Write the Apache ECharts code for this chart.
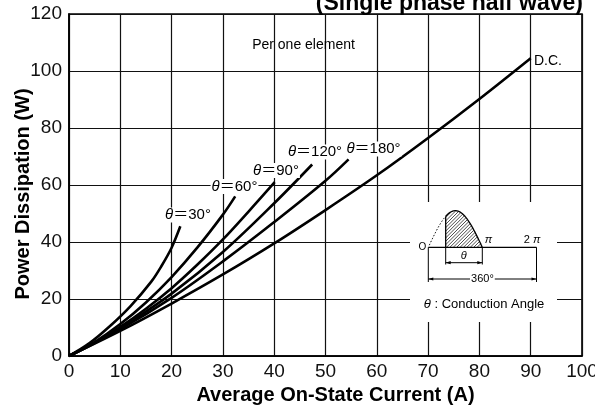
<!DOCTYPE html>
<html><head><meta charset="utf-8">
<script src="https://cdn.jsdelivr.net/npm/echarts@6/dist/echarts.min.js"></script>
<style>html,body{margin:0;padding:0;background:#fff}#c{width:595px;height:408px}</style>
</head><body><div id="c"></div>
<script>
// ---- data ----
const xTickValues = [0,10,20,30,40,50,60,70,80,90,100];
const yTickValues = [0,20,40,60,80,100,120];
const curveNames = ['θ＝30°','θ＝60°','θ＝90°','θ＝120°','θ＝180°','D.C.'];
const deg30X  = [0,4,8,12,16,18,20,21.7];
const deg30Y  = [0,4.5,10.5,17.5,26,31.5,38,45.5];
const deg60X  = [0,5,10,15,20,25,30,32.4];
const deg60Y  = [0,4.9,11.2,18.8,27.7,38,49.6,56];
const deg90X  = [0,5,10,15,20,25,30,35,40.1];
const deg90Y  = [0,4.7,10.2,16.6,23.8,32,40.9,50.7,61];
const deg120X = [0,5,10,20,30,40,47.4];
const deg120Y = [0,4.55,9.7,21.9,36.5,53.6,67.2];
const deg180X = [0,10,20,30,40,50,54.5];
const deg180Y = [0,9.4,20.4,33.2,47,61.5,69];
const dcX     = [0,10,20,30,40,50,60,70,80,90];
const dcY     = [0,8.8,18.4,28.6,39.5,51.2,63.4,76.5,90.2,104.5];

const curvesX = [deg30X,deg60X,deg90X,deg120X,deg180X,dcX];
const curvesY = [deg30Y,deg60Y,deg90Y,deg120Y,deg180Y,dcY];

const FONT = '"Liberation Sans", Arial, Helvetica, "Noto Sans CJK JP", sans-serif';
const chart = echarts.init(document.getElementById('c'), null, {renderer:'canvas'});

const series = curveNames.map((n,i)=>({
  name:n, type:'line', smooth:0.35, symbol:'none',
  lineStyle:{color:'#000', width:2.6},
  data: curvesX[i].map((x,j)=>[x, curvesY[i][j]]),
  z:3
}));

// ---- inset diagram (decoration) ----
function insetGraphics(){
  const g = [];
  const x0=428.3, xa=445.7, xb=482.3, x2=536.5, base=247.3, amp=36.6;
  const top = x => base - amp*Math.sin(Math.PI*(x-x0)/(xb-x0));
  const stroke = {stroke:'#000', lineWidth:1, fill:null};
  g.push({type:'rect', shape:{x:410,y:202,width:147,height:120}, style:{fill:'#fff'}, z:5});
  for(let c = xa+base-amp; c < xb+base; c += 3.4){
    let seg=null;
    for(let x=xa; x<=xb; x+=0.1){
      const y = c - x;
      const inside = y<=base && y>=top(x);
      if(inside){ if(!seg) seg=[[x,y],[x,y]]; else seg[1]=[x,y]; }
      else if(seg){ break; }
    }
    if(seg) g.push({type:'line', shape:{x1:seg[0][0],y1:seg[0][1],x2:seg[1][0],y2:seg[1][1]}, style:{stroke:'#000',lineWidth:0.7}, z:6});
  }
  const pts=[]; for(let x=xa;x<=xb+0.01;x+=0.5) pts.push([x,top(x)]);
  g.push({type:'polyline', shape:{points:pts}, style:{stroke:'#000',lineWidth:1.3,fill:null}, z:7});
  g.push({type:'line', shape:{x1:xa,y1:base,x2:xa,y2:top(xa)}, style:{stroke:'#000',lineWidth:1.3}, z:7});
  const dp=[]; for(let x=x0+1;x<=xa;x+=0.5) dp.push([x,top(x)]);
  g.push({type:'polyline', shape:{points:dp}, style:{stroke:'#000',lineWidth:1,fill:null,lineDash:[1.5,1.8]}, z:7});
  g.push({type:'line', shape:{x1:x0,y1:base,x2:x2,y2:base}, style:Object.assign({},stroke,{lineWidth:1.2}), z:7});
  g.push({type:'line', shape:{x1:x0,y1:base,x2:x0,y2:282}, style:stroke, z:7});
  g.push({type:'line', shape:{x1:x2,y1:base,x2:x2,y2:282}, style:stroke, z:7});
  g.push({type:'line', shape:{x1:xb,y1:base,x2:xb,y2:264.5}, style:stroke, z:7});
  g.push({type:'line', shape:{x1:xa,y1:base,x2:xa,y2:264.5}, style:stroke, z:7});
  function dim(xl,xr,y){
    g.push({type:'line', shape:{x1:xl,y1:y,x2:xr,y2:y}, style:stroke, z:7});
    g.push({type:'polygon', shape:{points:[[xl,y],[xl+5,y-1.6],[xl+5,y+1.6]]}, style:{fill:'#000'}, z:7});
    g.push({type:'polygon', shape:{points:[[xr,y],[xr-5,y-1.6],[xr-5,y+1.6]]}, style:{fill:'#000'}, z:7});
  }
  dim(xa,xb,262.7);
  dim(x0,x2,279);
  const t = (txt,x,y,size,extra)=>g.push({type:'text', x:x, y:y, z:8, style:Object.assign({text:txt, fontFamily:FONT, fontSize:size, fill:'#000', align:'center', verticalAlign:'middle'}, extra||{})});
  t('360°', (x0+x2)/2, 279, 11, {backgroundColor:'#fff', padding:[0,1]});
  t('θ', 463.8, 255.5, 11, {fontStyle:'italic'});
  t('π', 488.5, 240, 11, {fontStyle:'italic'});
  t('{n|2 }{p|π}', 532, 240, 11, {rich:{n:{fontFamily:FONT,fontSize:11},p:{fontFamily:FONT,fontSize:11,fontStyle:'italic'}}});
  t('O', 422.5, 247.3, 10);
  t('{p|θ} : Conduction Angle', 484, 304.5, 13, {rich:{p:{fontFamily:FONT,fontSize:13,fontStyle:'italic'}}});
  return g;
}

function label(txt,x,y){
  return {type:'text', x:x, y:y, z:8, style:{text:txt, fontFamily:FONT, fontSize:15, fill:'#000', align:'center', verticalAlign:'middle', backgroundColor:'#fff', padding:[0,1],
    rich:{t:{fontFamily:FONT,fontSize:15,fontStyle:'italic'}, n:{fontFamily:FONT,fontSize:15}}}};
}
function thetaText(n){ return '{t|θ}{n|' + n.slice(1) + '}'; }

const graphics = [
  {type:'text', x:583, y:15, z:9, style:{text:'(Single phase half wave)', fontFamily:FONT, fontSize:23, fontWeight:'bold', fill:'#000', align:'right', verticalAlign:'bottom'}},
  {type:'text', x:303.5, y:45, z:8, style:{text:'Per one element', fontFamily:FONT, fontSize:14, fill:'#000', align:'center', verticalAlign:'middle'}},
  {type:'text', x:548, y:61, z:8, style:{text:curveNames[5], fontFamily:FONT, fontSize:14, fill:'#000', align:'center', verticalAlign:'middle'}},
  label(thetaText(curveNames[0]),188,215),
  label(thetaText(curveNames[1]),234.5,186.5),
  label(thetaText(curveNames[2]),276,170.5),
  label(thetaText(curveNames[3]),315,152),
  label(thetaText(curveNames[4]),373.5,149),
].concat(insetGraphics());

chart.setOption({
  animation:false,
  backgroundColor:'#fff',
  grid:{left:69, right:13, top:14, bottom:52, containLabel:false, outerBoundsMode:'none', show:true, borderColor:'#000', borderWidth:1.6, backgroundColor:'transparent'},
  xAxis:{type:'value', min:xTickValues[0], max:xTickValues[xTickValues.length-1], interval:10,
    name:'Average On-State Current (A)', nameLocation:'middle', nameGap:29,
    nameTextStyle:{fontFamily:FONT, fontSize:20, fontWeight:'bold', color:'#000', padding:[0,0,0,20]},
    axisLine:{show:true, lineStyle:{color:'#000', width:1.6}}, axisTick:{show:false},
    axisLabel:{fontFamily:FONT, fontSize:19, color:'#111', margin:6},
    splitLine:{show:true, lineStyle:{color:'#111', width:1.2}}},
  yAxis:{type:'value', min:yTickValues[0], max:yTickValues[yTickValues.length-1], interval:20,
    name:'Power Dissipation (W)', nameLocation:'middle', nameGap:36, nameMoveOverlap:false,
    nameTextStyle:{fontFamily:FONT, fontSize:20, fontWeight:'bold', color:'#000', padding:[0,18,0,0]},
    axisLine:{show:true, lineStyle:{color:'#000', width:1.6}}, axisTick:{show:false},
    axisLabel:{fontFamily:FONT, fontSize:19, color:'#111', margin:7},
    splitLine:{show:true, lineStyle:{color:'#111', width:1.2}}},
  series: series,
  graphic: graphics
});
</script></body></html>
